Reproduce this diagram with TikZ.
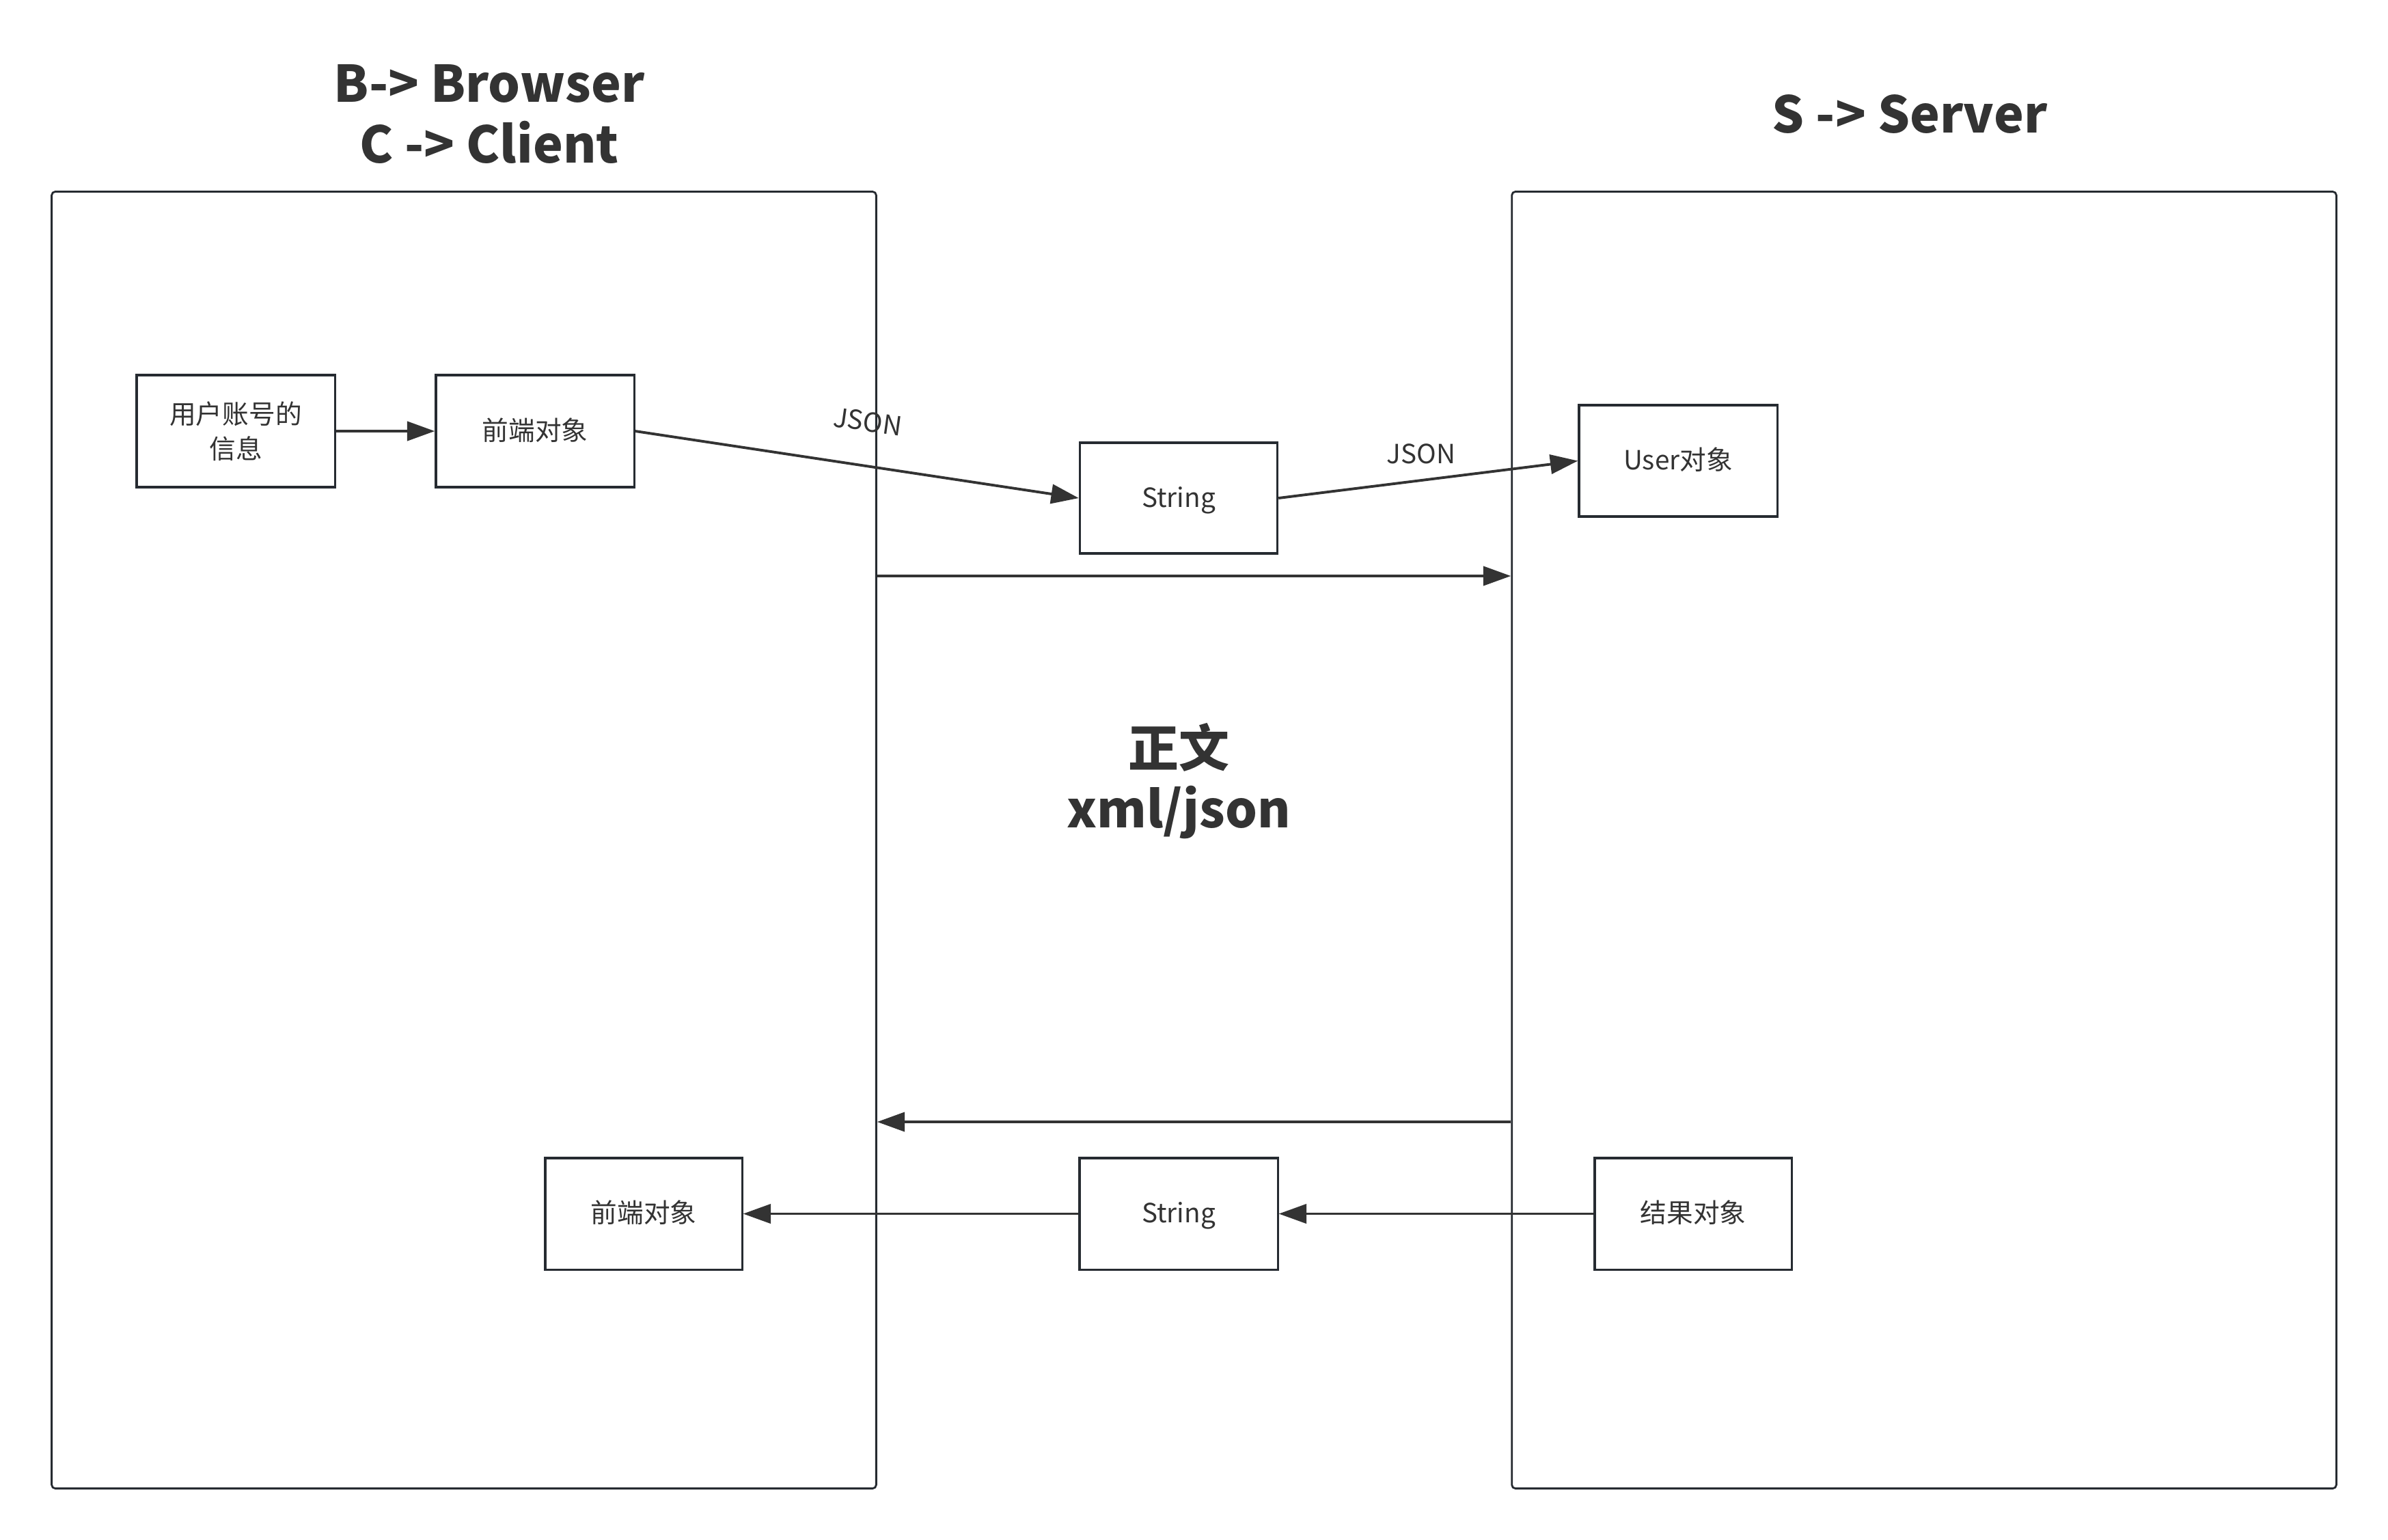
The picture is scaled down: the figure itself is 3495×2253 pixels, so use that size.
\documentclass[tikz,border=0pt]{standalone}
\usepackage{fontspec}
\setmainfont{Noto Sans CJK SC}
\usetikzlibrary{arrows.meta}
\definecolor{ink}{HTML}{333333}
\definecolor{edge}{HTML}{262B31}
\begin{document}
\begin{tikzpicture}[x=0.01cm,y=-0.01cm,
  box/.style={draw=edge, line width=0.9pt, fill=white, text=ink, font=\fontsize{11}{14.6}\selectfont, align=center, inner sep=0pt},
  onebox/.style={box, text height=0.88em, text depth=0.12em},
  big/.style={draw=edge, line width=0.8pt, rounded corners=1.5pt, inner sep=0pt},
  arr/.style={draw=ink, line width=1.1pt, -{Triangle[length=11.5pt,width=8pt]}},
  lbl/.style={text=ink, font=\fontsize{11}{13}\selectfont},
  title/.style={text=ink, font=\fontsize{21}{25.3}\selectfont\bfseries, align=center}]
\useasboundingbox (0,0) rectangle (3495,2253);
% big frames
\node[big, minimum width=12.06cm, minimum height=18.97cm] (L) at (679,1229.5) {};
\node[big, minimum width=12.06cm, minimum height=18.97cm] (R) at (2816,1229.5) {};
% titles
\node[title] (tb) at (716,167) {B-> Browser\\C -> Client};
\node[title] (ts) at (2795,167) {S -> Server};
\node[title] (tc) at (1725,1143) {正文\\xml/json};
% boxes
\node[box, minimum width=2.90cm, minimum height=1.64cm] (U) at (345,631) {用户账号的\\信息};
\node[onebox, minimum width=2.90cm, minimum height=1.64cm] (F1) at (783,631) {前端对象};
\node[onebox, minimum width=2.89cm, minimum height=1.62cm] (S1) at (1725,729) {String};
\node[onebox, minimum width=2.90cm, minimum height=1.63cm] (UO) at (2456,674.5) {User对象};
\node[onebox, minimum width=2.88cm, minimum height=1.63cm] (F2) at (942,1776.5) {前端对象};
\node[onebox, minimum width=2.90cm, minimum height=1.63cm] (S2) at (1725,1776.5) {String};
\node[onebox, minimum width=2.88cm, minimum height=1.63cm] (RO) at (2478,1776.5) {结果对象};
% labels
\node[lbl, rotate=-8] (j1) at (1270,617) {JSON};
\node[lbl] (j2) at (2080,664) {JSON};
% connectors
\coordinate (h1y) at (0,843);
\coordinate (h2y) at (0,1642);
\draw[arr] (U.east) -- (F1.west);
\draw[arr] (F1.east) -- (S1.west);
\draw[arr] (S1.east) -- (UO.west);
\draw[arr] (L.east |- h1y) -- (R.west |- h1y);
\draw[arr] (R.west |- h2y) -- (L.east |- h2y);
\draw[arr] (RO.west) -- (S2.east);
\draw[arr] (S2.west) -- (F2.east);
\end{tikzpicture}
\end{document}
